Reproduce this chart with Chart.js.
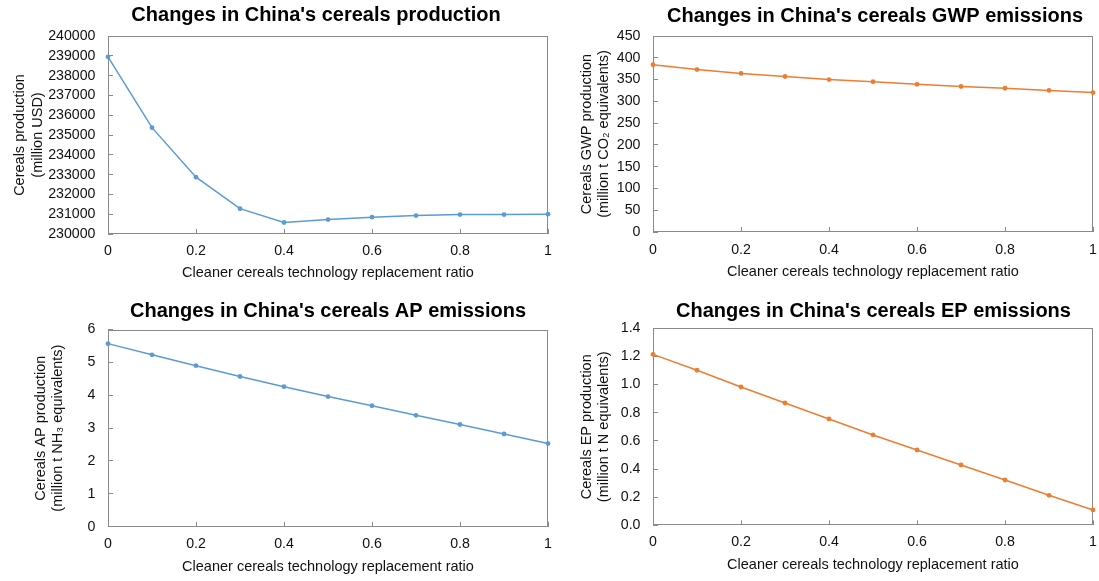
<!DOCTYPE html>
<html>
<head>
<meta charset="utf-8">
<title>Cleaner cereals technology scenarios</title>
<script src="https://cdn.jsdelivr.net/npm/chart.js@4.4.1/dist/chart.umd.min.js"></script>
<style>
  html, body { margin: 0; padding: 0; background: #ffffff; }
  body { width: 1099px; height: 581px; position: relative; overflow: hidden; }
  canvas { position: absolute; display: block; }
</style>
</head>
<body>
<canvas id="production" width="560" height="290" style="left:0;top:0"></canvas>
<canvas id="gwp" width="539" height="290" style="left:560px;top:0"></canvas>
<canvas id="ap" width="560" height="291" style="left:0;top:290px"></canvas>
<canvas id="ep" width="539" height="291" style="left:560px;top:290px"></canvas>
<script>
// Replacement ratio of cleaner cereals technology (x values shared by all panels)
const replacementRatio = [0, 0.1, 0.2, 0.3, 0.4, 0.5, 0.6, 0.7, 0.8, 0.9, 1];

// Series values
const cerealsProduction = [238950, 235370, 232870, 231280, 230580, 230730, 230850, 230930, 230980, 230980, 231000];
const gwpEmissions = [384, 373, 364, 357, 350, 345, 339, 334, 330, 325, 320];
const apEmissions = [5.57, 5.23, 4.90, 4.57, 4.26, 3.96, 3.68, 3.39, 3.11, 2.82, 2.53];
const epEmissions = [1.215, 1.102, 0.983, 0.869, 0.756, 0.642, 0.535, 0.429, 0.322, 0.213, 0.109];

// Tick values
const ratioTicks = [0, 0.2, 0.4, 0.6, 0.8, 1];
const productionTicks = [230000, 231000, 232000, 233000, 234000, 235000, 236000, 237000, 238000, 239000, 240000];
const gwpTicks = [0, 50, 100, 150, 200, 250, 300, 350, 400, 450];
const apTicks = [0, 1, 2, 3, 4, 5, 6];
const epTicks = [0, 0.2, 0.4, 0.6, 0.8, 1.0, 1.2, 1.4];

const X_TITLE = 'Cleaner cereals technology replacement ratio';
const FONT_FAMILY = '"Liberation Sans", Arial, Helvetica, sans-serif';
const TEXT_COLOR = '#111111';
const FRAME_COLOR = '#8a8a8a';
const BLUE = '#5b9bd5';
const ORANGE = '#ed7d31';

// Box around the plotting area
const plotFrame = {
  id: 'plotFrame',
  beforeDatasetsDraw(chart) {
    const { ctx, chartArea: a } = chart;
    ctx.save();
    ctx.strokeStyle = FRAME_COLOR;
    ctx.lineWidth = 1;
    const l = Math.round(a.left) + 0.5, t = Math.round(a.top) + 0.5;
    const r = Math.round(a.right) - 0.5, b = Math.round(a.bottom) - 0.5;
    ctx.strokeRect(l, t, r - l, b - t);
    ctx.restore();
  }
};

// Bold panel heading
const panelTitle = {
  id: 'panelTitle',
  afterDraw(chart, args, opts) {
    const ctx = chart.ctx;
    ctx.save();
    ctx.font = 'bold 20px ' + FONT_FAMILY;
    ctx.fillStyle = '#000000';
    ctx.textAlign = 'center';
    ctx.textBaseline = 'middle';
    ctx.fillText(opts.text, opts.x, opts.y);
    ctx.restore();
  }
};

function clearScalePadding(s) {
  s.paddingLeft = 0;
  s.paddingRight = 0;
  s.paddingTop = 0;
  s.paddingBottom = 0;
}

function buildPanel(canvasId, p) {
  const tickFont = { family: FONT_FAMILY, size: 14.2 };
  const titleFont = { family: FONT_FAMILY, size: 14.5, lineHeight: 1.2 };
  const yTicks = p.ticks;
  return new Chart(document.getElementById(canvasId), {
    type: 'line',
    data: {
      datasets: [{
        data: replacementRatio.map((x, i) => ({ x: x, y: p.values[i] })),
        borderColor: p.color,
        backgroundColor: p.color,
        borderWidth: 1.5,
        pointRadius: 2.4,
        pointHoverRadius: 2.4,
        pointBorderWidth: 0,
        tension: 0,
        clip: false
      }]
    },
    options: {
      responsive: false,
      animation: false,
      events: [],
      layout: { padding: { left: 0, right: p.padRight, top: p.padTop, bottom: 0 } },
      plugins: {
        legend: { display: false },
        tooltip: { enabled: false },
        title: { display: false },
        panelTitle: { text: p.title, x: p.titleX, y: p.titleY }
      },
      scales: {
        x: {
          type: 'linear',
          min: 0,
          max: 1,
          afterBuildTicks: s => { s.ticks = ratioTicks.map(v => ({ value: v })); },
          afterFit: s => { s.height = p.xHeight; clearScalePadding(s); },
          ticks: {
            callback: v => String(v),
            font: tickFont,
            color: TEXT_COLOR,
            padding: p.xTickPad,
            maxRotation: 0,
            autoSkip: false
          },
          grid: { display: true, drawOnChartArea: false, drawTicks: true, tickLength: -5, color: FRAME_COLOR },
          border: { display: false },
          title: {
            display: true,
            text: X_TITLE,
            font: titleFont,
            color: TEXT_COLOR,
            padding: { top: 0, bottom: p.xTitlePad }
          }
        },
        y: {
          type: 'linear',
          min: yTicks[0],
          max: yTicks[yTicks.length - 1],
          afterBuildTicks: s => { s.ticks = yTicks.map(v => ({ value: v })); },
          afterFit: s => { s.width = p.yWidth; clearScalePadding(s); },
          ticks: {
            callback: p.format,
            font: tickFont,
            color: TEXT_COLOR,
            padding: 17.5,
            autoSkip: false
          },
          grid: { display: true, drawOnChartArea: false, drawTicks: true, tickLength: -5, color: FRAME_COLOR },
          border: { display: false },
          title: {
            display: true,
            text: p.yTitle,
            font: titleFont,
            color: TEXT_COLOR,
            padding: { top: p.yTitlePad, bottom: 0 }
          }
        }
      }
    },
    plugins: [plotFrame, panelTitle]
  });
}

buildPanel('production', {
  values: cerealsProduction, color: BLUE, ticks: productionTicks,
  format: v => String(v),
  title: "Changes in China's cereals production", titleX: 316, titleY: 15,
  yTitle: ['Cereals production', '(million USD)'],
  padTop: 36, padRight: 12, yWidth: 108, yTitlePad: 11.5,
  xHeight: 56, xTickPad: 14, xTitlePad: 8
});

buildPanel('gwp', {
  values: gwpEmissions, color: ORANGE, ticks: gwpTicks,
  format: v => String(v),
  title: "Changes in China's cereals GWP emissions", titleX: 315, titleY: 16.5,
  yTitle: ['Cereals GWP production', '(million t CO\u2082 equivalents)'],
  padTop: 36, padRight: 6, yWidth: 93, yTitlePad: 18,
  xHeight: 58, xTickPad: 14.3, xTitlePad: 9.6
});

buildPanel('ap', {
  values: apEmissions, color: BLUE, ticks: apTicks,
  format: v => String(v),
  title: "Changes in China's cereals AP emissions", titleX: 328, titleY: 21.5,
  yTitle: ['Cereals AP production', '(million t NH\u2083 equivalents)'],
  padTop: 39.5, padRight: 12, yWidth: 108, yTitlePad: 32,
  xHeight: 54.3, xTickPad: 13.6, xTitlePad: 5.6
});

buildPanel('ep', {
  values: epEmissions, color: ORANGE, ticks: epTicks,
  format: v => Number(v).toFixed(1),
  title: "Changes in China's cereals EP emissions", titleX: 313.5, titleY: 21,
  yTitle: ['Cereals EP production', '(million t N equivalents)'],
  padTop: 38.3, padRight: 6, yWidth: 93, yTitlePad: 18.3,
  xHeight: 55.7, xTickPad: 13.3, xTitlePad: 7.3
});
</script>
</body>
</html>
